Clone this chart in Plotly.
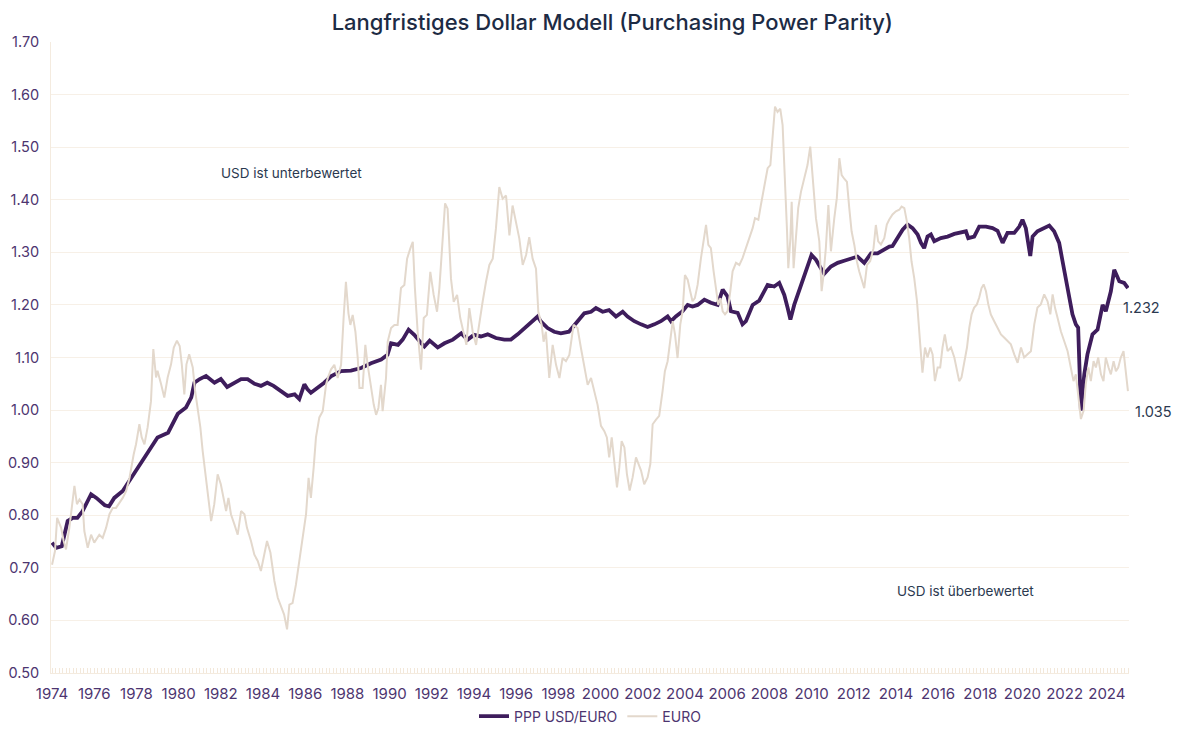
import plotly.graph_objects as go

# ---------------- data ----------------
ppp_years = [1974.00, 1974.20, 1974.46, 1974.74, 1974.98, 1975.20, 1975.45, 1975.85, 1976.10, 1976.50,
             1976.70, 1976.95, 1977.35, 1977.67, 1978.06, 1978.53, 1979.00, 1979.50, 1979.96, 1980.35,
             1980.60, 1980.75, 1981.00, 1981.30, 1981.70, 1982.00, 1982.30, 1982.64, 1982.96, 1983.27,
             1983.60, 1983.90, 1984.20, 1984.50, 1984.85, 1985.17, 1985.50, 1985.72, 1985.96, 1986.10,
             1986.27, 1986.60, 1986.90, 1987.22, 1987.70, 1988.17, 1988.65, 1989.12, 1989.60, 1989.90,
             1990.07, 1990.40, 1990.62, 1990.90, 1991.17, 1991.50, 1991.65, 1991.90, 1992.28, 1992.60,
             1993.00, 1993.40, 1993.70, 1994.00, 1994.33, 1994.65, 1995.04, 1995.44, 1995.75, 1996.07,
             1996.39, 1996.70, 1997.02, 1997.18, 1997.49, 1997.80, 1998.12, 1998.50, 1998.90, 1999.23,
             1999.55, 1999.78, 2000.10, 2000.40, 2000.73, 2001.05, 2001.28, 2001.60, 2001.92, 2002.23,
             2002.55, 2002.86, 2003.18, 2003.34, 2003.57, 2003.89, 2004.13, 2004.36, 2004.60, 2004.92,
             2005.23, 2005.55, 2005.79, 2006.02, 2006.18, 2006.50, 2006.73, 2006.89, 2007.21, 2007.52,
             2007.92, 2008.23, 2008.47, 2008.71, 2008.87, 2009.00, 2009.18, 2009.50, 2009.81, 2010.00,
             2010.21, 2010.45, 2010.60, 2010.92, 2011.24, 2011.55, 2011.87, 2012.18, 2012.50, 2012.82,
             2013.13, 2013.45, 2013.69, 2013.84, 2014.08, 2014.32, 2014.55, 2014.79, 2015.03, 2015.19,
             2015.34, 2015.50, 2015.66, 2015.82, 2016.13, 2016.45, 2016.77, 2017.08, 2017.32, 2017.43,
             2017.71, 2017.95, 2018.27, 2018.58, 2018.82, 2019.06, 2019.29, 2019.61, 2019.85, 2020.00,
             2020.16, 2020.37, 2020.48, 2020.71, 2021.03, 2021.27, 2021.50, 2021.74, 2021.90, 2022.06,
             2022.22, 2022.37, 2022.53, 2022.64, 2022.77, 2022.93, 2023.08, 2023.32, 2023.56, 2023.80,
             2023.95, 2024.19, 2024.35, 2024.59, 2024.82, 2025.00]
ppp_values = [0.748, 0.738, 0.741, 0.789, 0.795, 0.795, 0.808, 0.840, 0.833, 0.819,
              0.817, 0.833, 0.846, 0.865, 0.890, 0.919, 0.948, 0.957, 0.993, 1.005,
              1.024, 1.052, 1.059, 1.065, 1.052, 1.059, 1.044, 1.052, 1.059, 1.059,
              1.050, 1.046, 1.052, 1.046, 1.037, 1.027, 1.030, 1.021, 1.049, 1.040,
              1.033, 1.043, 1.052, 1.064, 1.074, 1.075, 1.080, 1.089, 1.096, 1.105,
              1.127, 1.124, 1.134, 1.153, 1.143, 1.127, 1.121, 1.132, 1.119, 1.127,
              1.134, 1.146, 1.134, 1.143, 1.140, 1.144, 1.137, 1.134, 1.134, 1.144,
              1.156, 1.168, 1.178, 1.168, 1.156, 1.149, 1.146, 1.149, 1.168, 1.184,
              1.187, 1.194, 1.187, 1.190, 1.178, 1.187, 1.178, 1.169, 1.163, 1.158,
              1.163, 1.169, 1.178, 1.169, 1.178, 1.188, 1.200, 1.197, 1.200, 1.210,
              1.204, 1.200, 1.229, 1.216, 1.188, 1.185, 1.163, 1.169, 1.200, 1.208,
              1.238, 1.235, 1.242, 1.219, 1.194, 1.172, 1.200, 1.238, 1.276, 1.295,
              1.286, 1.270, 1.259, 1.273, 1.280, 1.284, 1.289, 1.292, 1.280, 1.298,
              1.298, 1.305, 1.311, 1.312, 1.327, 1.343, 1.353, 1.346, 1.334, 1.318,
              1.308, 1.330, 1.334, 1.321, 1.327, 1.330, 1.335, 1.337, 1.340, 1.327,
              1.330, 1.349, 1.349, 1.346, 1.341, 1.318, 1.337, 1.337, 1.349, 1.362,
              1.346, 1.293, 1.330, 1.340, 1.346, 1.351, 1.340, 1.318, 1.283, 1.248,
              1.220, 1.182, 1.163, 1.157, 0.999, 1.068, 1.106, 1.144, 1.153, 1.200,
              1.188, 1.226, 1.267, 1.245, 1.242, 1.232]

euro_years = [1974.00, 1974.14, 1974.24, 1974.43, 1974.55, 1974.66, 1974.82, 1975.06, 1975.18, 1975.30,
              1975.45, 1975.53, 1975.69, 1975.85, 1976.00, 1976.24, 1976.40, 1976.56, 1976.72, 1976.88,
              1977.03, 1977.19, 1977.35, 1977.51, 1977.67, 1977.87, 1977.98, 1978.14, 1978.25, 1978.38,
              1978.53, 1978.69, 1978.80, 1978.93, 1979.00, 1979.17, 1979.32, 1979.48, 1979.64, 1979.77,
              1979.92, 1980.05, 1980.15, 1980.27, 1980.37, 1980.50, 1980.67, 1980.78, 1980.90, 1981.03,
              1981.14, 1981.25, 1981.38, 1981.54, 1981.69, 1981.85, 1982.00, 1982.14, 1982.25, 1982.36,
              1982.48, 1982.64, 1982.80, 1982.96, 1983.12, 1983.24, 1983.43, 1983.59, 1983.75, 1983.90,
              1984.03, 1984.19, 1984.35, 1984.54, 1984.70, 1984.85, 1985.00, 1985.14, 1985.25, 1985.40,
              1985.56, 1985.72, 1985.88, 1986.04, 1986.16, 1986.27, 1986.40, 1986.51, 1986.67, 1986.83,
              1986.99, 1987.07, 1987.22, 1987.38, 1987.54, 1987.70, 1987.82, 1987.93, 1988.05, 1988.14,
              1988.25, 1988.38, 1988.49, 1988.57, 1988.72, 1988.85, 1988.96, 1989.09, 1989.25, 1989.36,
              1989.47, 1989.59, 1989.67, 1989.83, 1989.91, 1990.07, 1990.23, 1990.38, 1990.54, 1990.70,
              1990.83, 1990.98, 1991.10, 1991.20, 1991.33, 1991.49, 1991.62, 1991.77, 1991.93, 1992.09,
              1992.25, 1992.36, 1992.52, 1992.63, 1992.75, 1992.91, 1993.04, 1993.20, 1993.35, 1993.51,
              1993.64, 1993.78, 1993.94, 1994.10, 1994.25, 1994.41, 1994.57, 1994.73, 1994.89, 1995.04,
              1995.20, 1995.36, 1995.52, 1995.68, 1995.83, 1995.99, 1996.15, 1996.31, 1996.47, 1996.62,
              1996.78, 1996.94, 1997.05, 1997.21, 1997.30, 1997.41, 1997.57, 1997.73, 1997.89, 1998.05,
              1998.20, 1998.36, 1998.52, 1998.72, 1998.91, 1999.07, 1999.23, 1999.39, 1999.55, 1999.70,
              1999.86, 2000.02, 2000.18, 2000.30, 2000.41, 2000.53, 2000.65, 2000.78, 2000.89, 2001.00,
              2001.13, 2001.25, 2001.38, 2001.52, 2001.68, 2001.79, 2001.92, 2002.07, 2002.23, 2002.36,
              2002.47, 2002.63, 2002.78, 2002.94, 2003.05, 2003.18, 2003.31, 2003.42, 2003.53, 2003.65,
              2003.78, 2003.89, 2004.00, 2004.13, 2004.25, 2004.36, 2004.47, 2004.60, 2004.76, 2004.89,
              2005.00, 2005.11, 2005.23, 2005.36, 2005.47, 2005.58, 2005.68, 2005.79, 2005.90, 2006.02,
              2006.15, 2006.26, 2006.42, 2006.58, 2006.73, 2006.89, 2007.05, 2007.21, 2007.32, 2007.48,
              2007.60, 2007.76, 2007.92, 2008.05, 2008.16, 2008.27, 2008.39, 2008.52, 2008.63, 2008.74,
              2008.84, 2008.90, 2009.00, 2009.06, 2009.15, 2009.26, 2009.37, 2009.50, 2009.66, 2009.81,
              2009.94, 2010.05, 2010.21, 2010.37, 2010.48, 2010.57, 2010.68, 2010.80, 2010.92, 2011.08,
              2011.20, 2011.32, 2011.43, 2011.55, 2011.68, 2011.79, 2011.90, 2012.03, 2012.15, 2012.26,
              2012.37, 2012.50, 2012.63, 2012.78, 2012.94, 2013.05, 2013.16, 2013.29, 2013.45, 2013.57,
              2013.68, 2013.84, 2014.00, 2014.16, 2014.27, 2014.40, 2014.52, 2014.63, 2014.74, 2014.87,
              2015.00, 2015.11, 2015.19, 2015.26, 2015.38, 2015.50, 2015.63, 2015.74, 2015.85, 2015.98,
              2016.10, 2016.21, 2016.32, 2016.45, 2016.61, 2016.77, 2016.89, 2017.00, 2017.11, 2017.24,
              2017.37, 2017.48, 2017.59, 2017.71, 2017.84, 2017.95, 2018.06, 2018.16, 2018.27, 2018.38,
              2018.50, 2018.66, 2018.82, 2018.98, 2019.13, 2019.29, 2019.45, 2019.61, 2019.77, 2019.93,
              2020.08, 2020.24, 2020.40, 2020.56, 2020.71, 2020.87, 2021.03, 2021.19, 2021.32, 2021.43,
              2021.54, 2021.66, 2021.82, 2021.98, 2022.14, 2022.29, 2022.42, 2022.53, 2022.64, 2022.77,
              2022.90, 2023.00, 2023.12, 2023.24, 2023.37, 2023.48, 2023.59, 2023.72, 2023.84, 2023.95,
              2024.08, 2024.19, 2024.32, 2024.43, 2024.54, 2024.66, 2024.79, 2024.90, 2025.00]
euro_values = [0.706, 0.732, 0.795, 0.776, 0.751, 0.735, 0.776, 0.856, 0.821, 0.830,
               0.821, 0.770, 0.738, 0.763, 0.748, 0.763, 0.757, 0.776, 0.802, 0.814,
               0.814, 0.824, 0.833, 0.846, 0.871, 0.916, 0.935, 0.973, 0.948, 0.935,
               0.967, 1.017, 1.116, 1.062, 1.075, 1.049, 1.024, 1.062, 1.087, 1.119,
               1.132, 1.122, 1.087, 1.030, 1.087, 1.106, 1.081, 1.037, 1.005, 0.967,
               0.922, 0.884, 0.833, 0.789, 0.821, 0.878, 0.859, 0.833, 0.808, 0.833,
               0.802, 0.783, 0.763, 0.808, 0.802, 0.776, 0.751, 0.725, 0.713, 0.694,
               0.719, 0.751, 0.729, 0.675, 0.643, 0.627, 0.611, 0.583, 0.630, 0.633,
               0.668, 0.713, 0.757, 0.802, 0.871, 0.833, 0.890, 0.948, 0.986, 0.998,
               1.049, 1.061, 1.077, 1.086, 1.061, 1.086, 1.175, 1.244, 1.184, 1.162,
               1.181, 1.149, 1.099, 1.042, 1.042, 1.124, 1.086, 1.048, 1.010, 0.991,
               1.004, 1.048, 0.998, 1.061, 1.130, 1.156, 1.162, 1.162, 1.232, 1.238,
               1.288, 1.307, 1.320, 1.232, 1.149, 1.077, 1.175, 1.181, 1.263, 1.219,
               1.187, 1.232, 1.339, 1.393, 1.383, 1.250, 1.206, 1.219, 1.175, 1.149,
               1.124, 1.194, 1.149, 1.124, 1.168, 1.206, 1.244, 1.276, 1.288, 1.345,
               1.424, 1.402, 1.408, 1.332, 1.389, 1.358, 1.326, 1.276, 1.295, 1.329,
               1.288, 1.269, 1.187, 1.162, 1.130, 1.149, 1.061, 1.124, 1.086, 1.061,
               1.099, 1.093, 1.105, 1.162, 1.156, 1.118, 1.086, 1.048, 1.061, 1.036,
               1.010, 0.970, 0.960, 0.948, 0.910, 0.948, 0.897, 0.853, 0.891, 0.941,
               0.929, 0.878, 0.847, 0.872, 0.910, 0.897, 0.885, 0.859, 0.872, 0.897,
               0.973, 0.982, 0.989, 1.036, 1.074, 1.093, 1.137, 1.169, 1.144, 1.099,
               1.163, 1.188, 1.257, 1.248, 1.226, 1.207, 1.213, 1.238, 1.289, 1.327,
               1.352, 1.314, 1.308, 1.264, 1.226, 1.200, 1.213, 1.188, 1.182, 1.188,
               1.226, 1.264, 1.280, 1.276, 1.289, 1.308, 1.327, 1.346, 1.365, 1.362,
               1.390, 1.428, 1.460, 1.466, 1.529, 1.577, 1.567, 1.573, 1.542, 1.447,
               1.340, 1.270, 1.327, 1.396, 1.270, 1.327, 1.384, 1.415, 1.440, 1.466,
               1.501, 1.447, 1.365, 1.321, 1.226, 1.257, 1.308, 1.390, 1.302, 1.365,
               1.403, 1.479, 1.447, 1.440, 1.434, 1.384, 1.340, 1.314, 1.283, 1.264,
               1.251, 1.232, 1.276, 1.283, 1.308, 1.352, 1.321, 1.315, 1.327, 1.353,
               1.362, 1.372, 1.378, 1.381, 1.387, 1.384, 1.359, 1.327, 1.283, 1.251,
               1.207, 1.138, 1.106, 1.071, 1.119, 1.100, 1.119, 1.106, 1.055, 1.081,
               1.081, 1.119, 1.144, 1.112, 1.119, 1.100, 1.074, 1.055, 1.062, 1.093,
               1.119, 1.157, 1.182, 1.195, 1.201, 1.214, 1.232, 1.239, 1.226, 1.201,
               1.182, 1.169, 1.157, 1.144, 1.138, 1.131, 1.125, 1.106, 1.090, 1.119,
               1.100, 1.106, 1.112, 1.163, 1.195, 1.201, 1.220, 1.207, 1.182, 1.220,
               1.195, 1.176, 1.150, 1.131, 1.112, 1.081, 1.055, 1.068, 1.030, 0.983,
               0.999, 1.049, 1.081, 1.055, 1.093, 1.081, 1.100, 1.068, 1.055, 1.100,
               1.081, 1.068, 1.093, 1.074, 1.081, 1.100, 1.112, 1.074, 1.036]

tick_years = list(range(1974, 2025, 2))
tick_labels = [str(y) for y in tick_years]
y_ticks = [0.5, 0.6, 0.7, 0.8, 0.9, 1.0, 1.1, 1.2, 1.3, 1.4, 1.5, 1.6, 1.7]

title_text = "Langfristiges Dollar Modell (Purchasing Power Parity)"
series_names = ["PPP USD/EURO", "EURO"]
last_ppp_label = "1.232"
last_euro_label = "1.035"

# ---------------- styles ----------------
PURPLE = "#3e1d5c"
BEIGE = "#e3d8cc"
TICK_COLOR = "#4d3570"
TEXT_DARK = "#1d2b44"
NOTE = "#2b3950"
GRID = "#f7f0e7"
FONT = "Inter, Lato, 'Open Sans', sans-serif"

fig = go.Figure()
fig.add_trace(go.Scatter(x=ppp_years, y=ppp_values, mode="lines", name=series_names[0],
                         line=dict(color=PURPLE, width=3.8)))
fig.add_trace(go.Scatter(x=euro_years, y=euro_values, mode="lines", name=series_names[1],
                         line=dict(color=BEIGE, width=2)))

fig.update_layout(
    width=1199, height=743,
    paper_bgcolor="white", plot_bgcolor="white",
    margin=dict(l=43, r=78, t=34, b=78, autoexpand=False),
    font=dict(family=FONT, color=TICK_COLOR, size=14),
    title=dict(text=title_text, x=0.504, xanchor="center", y=1 - 7 / 743, yanchor="top",
               font=dict(family=FONT, size=22, color=TEXT_DARK, weight=500)),
    showlegend=True,
    legend=dict(orientation="h", x=0.5, xanchor="center", y=-0.069, yanchor="middle",
                font=dict(size=14, color=TICK_COLOR), itemwidth=30, tracegroupgap=0,
                bgcolor="rgba(0,0,0,0)"),
    xaxis=dict(range=[1973.95, 2025.05], tickmode="array", tickvals=tick_years, ticktext=tick_labels,
               showgrid=False, zeroline=False, showline=True, linecolor="#f4ebdf", linewidth=1,
               ticks="", ticklen=0, ticklabelstandoff=7, tickfont=dict(size=15, color=TICK_COLOR),
               automargin=False,
               minor=dict(ticks="inside", dtick=0.1667, tick0=1974, ticklen=5, tickcolor="#f3e8da",
                          tickwidth=1, showgrid=False)),
    yaxis=dict(range=[0.5, 1.7], tickmode="array", tickvals=y_ticks, tickformat=".2f",
               showgrid=True, gridcolor=GRID, gridwidth=1, zeroline=False, automargin=False,
               showline=True, linecolor="#f4ebdf", linewidth=1, ticks="", ticklabelstandoff=8,
               tickfont=dict(size=14.5, color=TICK_COLOR)),
)

fig.add_annotation(x=1985.33, y=1.451, xref="x", yref="y", text="USD ist unterbewertet",
                   showarrow=False, font=dict(family=FONT, size=13.5, color=NOTE))
fig.add_annotation(x=2017.32, y=0.656, xref="x", yref="y", text="USD ist überbewertet",
                   showarrow=False, font=dict(family=FONT, size=13.5, color=NOTE))
fig.add_annotation(x=1.031, y=1.196, xref="paper", yref="y", text=last_ppp_label,
                   showarrow=False, font=dict(family=FONT, size=14.5, color=NOTE))
fig.add_annotation(x=1.042, y=0.998, xref="paper", yref="y", text=last_euro_label,
                   showarrow=False, font=dict(family=FONT, size=14.5, color=NOTE))

fig.write_html("out.html")
